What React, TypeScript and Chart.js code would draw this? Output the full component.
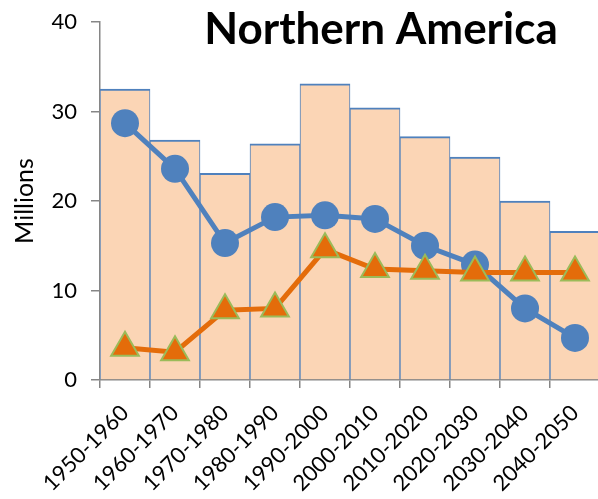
import React, { useEffect, useRef } from "react";
import { Chart, registerables } from "chart.js";

Chart.register(...registerables);

const categories = [
  "1950-1960", "1960-1970", "1970-1980", "1980-1990", "1990-2000",
  "2000-2010", "2010-2020", "2020-2030", "2030-2040", "2040-2050",
];
const barValues = [32.5, 26.8, 23.1, 26.4, 33.1, 30.4, 27.2, 24.9, 20.0, 16.6];
const circleValues = [28.7, 23.6, 15.3, 18.2, 18.4, 18.0, 15.0, 12.9, 8.0, 4.7];
const triangleValues = [3.6, 3.1, 7.8, 8.0, 14.6, 12.4, 12.2, 12.0, 12.0, 12.0];
const yTicks = [0, 10, 20, 30, 40];
const titleText = "Northern America";
const yAxisTitle = "Millions";

const FONT = "Lato, 'Noto Sans', sans-serif";

export default function App() {
  const ref = useRef<HTMLCanvasElement | null>(null);
  useEffect(() => {
    if (!ref.current) return;
    const titlePlugin = {
      id: "customTitle",
      afterDraw(chart: any) {
        const ctx = chart.ctx;
        ctx.save();
        ctx.font = `bold 44px ${FONT}`;
        ctx.fillStyle = "#000";
        ctx.textAlign = "center";
        ctx.textBaseline = "alphabetic";
        ctx.fillText(titleText, 381, 44);
        ctx.restore();
      },
    };
    const chart = new Chart(ref.current, {
      type: "bar",
      data: {
        labels: categories,
        datasets: [
          {
            type: "line",
            data: triangleValues,
            borderColor: "#E46C0A",
            borderWidth: 5,
            pointStyle: "triangle",
            pointRadius: 16,
            pointBackgroundColor: "#E46C0A",
            pointBorderColor: "#9BBB59",
            pointBorderWidth: 2,
            tension: 0,
            clip: false,
            order: 1,
          } as any,
          {
            type: "line",
            data: circleValues,
            borderColor: "#4F81BD",
            borderWidth: 5,
            pointStyle: "circle",
            pointRadius: 14,
            pointBackgroundColor: "#4F81BD",
            pointBorderColor: "#4F81BD",
            pointBorderWidth: 0,
            tension: 0,
            clip: false,
            order: 2,
          } as any,
          {
            type: "bar",
            data: barValues,
            backgroundColor: "#FBD5B5",
            borderColor: "#4F81BD",
            borderWidth: { top: 2, left: 1, right: 1, bottom: 0 },
            borderSkipped: false,
            categoryPercentage: 1,
            barPercentage: 1,
            order: 3,
          } as any,
        ],
      },
      options: {
        responsive: false,
        animation: false,
        devicePixelRatio: 1,
        layout: { autoPadding: false, padding: { top: 22, left: 0, right: 0, bottom: 0 } },
        plugins: {
          legend: { display: false },
          tooltip: { enabled: false },
          title: { display: false },
        },
        scales: {
          x: {
            offset: true,
            grid: {
              display: true,
              offset: true,
              drawOnChartArea: false,
              drawTicks: true,
              tickLength: 8,
              color: "#868686",
              lineWidth: 1.5,
            },
            border: { display: true, color: "#868686", width: 1.5 },
            ticks: {
              autoSkip: false,
              maxRotation: 45,
              minRotation: 45,
              padding: 12,
              color: "#000",
              font: { family: FONT, size: 22 },
            },
            afterCalculateLabelRotation(scale: any) {
              scale.labelRotation = 45;
            },
            afterFit(scale: any) {
              scale.height = 119;
              scale.paddingLeft = 0;
              scale.paddingRight = 0;
            },
          },
          y: {
            min: 0,
            max: 40,
            afterBuildTicks(scale: any) {
              scale.ticks = yTicks.map((v) => ({ value: v }));
            },
            grid: {
              display: true,
              drawOnChartArea: false,
              drawTicks: true,
              tickLength: 9,
              color: "#868686",
              lineWidth: 1.5,
            },
            border: { display: true, color: "#868686", width: 1.5 },
            ticks: {
              padding: 14,
              color: "#000",
              font: { family: FONT, size: 22 },
            },
            title: {
              display: true,
              text: yAxisTitle,
              color: "#000",
              font: { family: FONT, size: 25 },
              padding: { top: 10, bottom: 0 },
            },
            afterFit(scale: any) {
              scale.width = 100;
              scale.paddingTop = 0;
              scale.paddingBottom = 0;
            },
          },
        },
      },
      plugins: [titlePlugin],
    });
    return () => chart.destroy();
  }, []);
  return (
    <div style={{ position: "absolute", left: 0, top: 0, width: 598, height: 499, overflow: "hidden", background: "#fff" }}>
      <canvas ref={ref} width={600} height={499} style={{ display: "block", width: 600, height: 499 }} />
    </div>
  );
}
